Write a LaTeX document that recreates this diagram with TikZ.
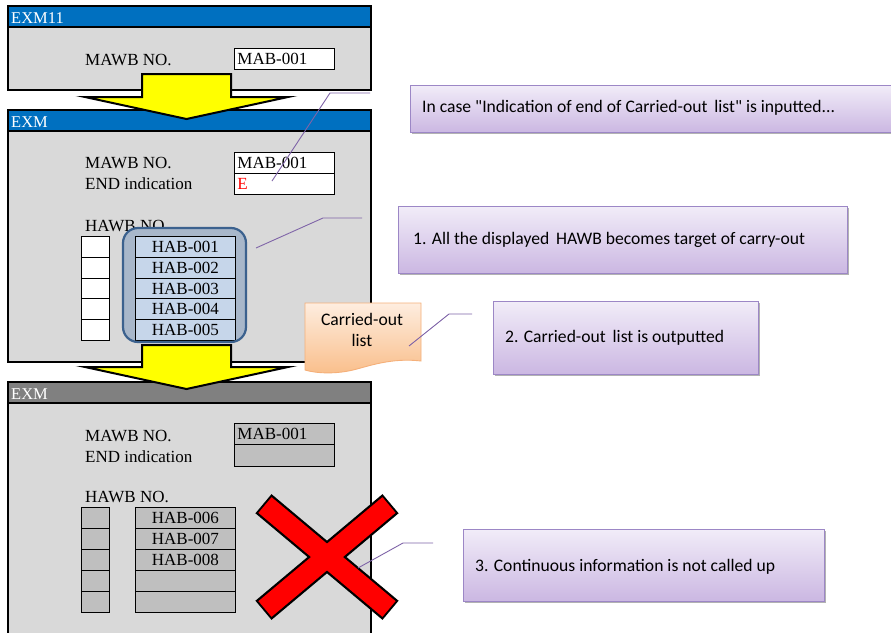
\documentclass[tikz,border=0pt]{standalone}
\usepackage{fontspec}
\setmainfont{Liberation Serif}
\newfontfamily\calfont{Carlito}
\usetikzlibrary{shadows}
\definecolor{barblue}{HTML}{0070C0}
\definecolor{panelgray}{HTML}{D9D9D9}
\definecolor{fieldgray}{HTML}{BFBFBF}
\definecolor{bargray}{HTML}{808080}
\definecolor{hifill}{HTML}{A8B7CA}
\definecolor{hiborder}{HTML}{3B618E}
\definecolor{cellblue}{HTML}{C6D6EA}
\definecolor{pborder}{HTML}{9C87C6}
\definecolor{ptop}{HTML}{F1ECF8}
\definecolor{pbot}{HTML}{CBB7E2}
\definecolor{pline}{HTML}{7F64A8}
\definecolor{nborder}{HTML}{F5B07A}
\definecolor{ntop}{HTML}{FEEDDF}
\definecolor{nbot}{HTML}{F9BE8A}
\definecolor{arrowyellow}{HTML}{FFFF00}
\definecolor{xred}{HTML}{FF0000}
\begin{document}
\begin{tikzpicture}[x=1pt,y=-1pt,
  panel/.style={fill=panelgray,draw=black,line width=1.2pt},
  tbar/.style={draw=black,line width=1.2pt},
  title/.style={anchor=base west,inner sep=0,text=white,font=\fontsize{16.5}{19}\selectfont},
  lbl/.style={anchor=base west,inner sep=0,font=\fontsize{17}{20}\selectfont},
  field/.style={draw=black,line width=0.9pt,anchor=north west,minimum height=21.3pt,
     text width=94pt,inner xsep=3pt,inner ysep=0pt,align=left,font=\fontsize{17}{20}\selectfont},
  cell/.style={draw=black,line width=0.9pt,anchor=north west,minimum height=20.8pt,inner sep=0pt,
     font=\fontsize{17}{20}\selectfont},
  bigarrow/.style={fill=arrowyellow,draw=black,line width=2pt,line join=miter},
  pbox/.style={draw=pborder,line width=0.9pt,top color=ptop,bottom color=pbot,anchor=north west,inner sep=0pt,
     drop shadow={shadow xshift=1.5pt,shadow yshift=-2pt,opacity=0.3,fill=black}},
  ptext/.style={anchor=west,inner sep=0pt,font=\calfont\fontsize{17.6}{21}\selectfont},
  cline/.style={draw=pline,line width=0.9pt},
]
\useasboundingbox (0,0) rectangle (891,632);
\clip (0,0) rectangle (891,632);
\fill[white] (0,0) rectangle (891,632);

% ---------- top panel EXM11
\draw[panel] (8,6) rectangle (371,90);
\filldraw[tbar,fill=barblue] (8,6) rectangle (371,27);
\node[title] (t1) at (11,23) {EXM11};
\node[lbl] (l1a) at (85,65) {MAWB NO.};
\node[field,fill=white] (f1a) at (234,48) {MAB-001};

% ---------- middle panel EXM
\draw[panel] (8,110) rectangle (371,362);
\filldraw[tbar,fill=barblue] (8,110) rectangle (371,131);
\node[title] (t2) at (11,127) {EXM};
\node[lbl] (l2a) at (85,168) {MAWB NO.};
\node[lbl] (l2b) at (85,189) {END indication};
\node[field,fill=white] (f2a) at (234,152) {MAB-001};
\node[field,fill=white,text=red] (f2b) at (234,173) {E};
\node[lbl] (l2c) at (85,231) {HAWB NO.};
\fill[hifill,rounded corners=15pt] (123,228) rectangle (246,342);
\foreach \i in {1,...,5}{
  \node[cell,fill=white,minimum width=28pt] (ml\i) at (81,{236+(\i-1)*20.8}) {};
  \node[cell,fill=cellblue,minimum width=100pt] (mh\i) at (135,{236+(\i-1)*20.8}) {HAB-00\i};
}
\draw[hiborder,line width=2.2pt,rounded corners=15pt] (123,228) rectangle (246,342);

% ---------- bottom panel EXM
\draw[panel] (8,382) rectangle (371,660);
\filldraw[tbar,fill=bargray] (8,382) rectangle (371,403);
\node[title] (t3) at (11,399) {EXM};
\node[lbl] (l3a) at (85,441) {MAWB NO.};
\node[lbl] (l3b) at (85,462) {END indication};
\node[field,fill=fieldgray] (f3a) at (234,423) {MAB-001};
\node[field,fill=fieldgray] (f3b) at (234,444.3) {\strut};
\node[lbl] (l3c) at (85,502) {HAWB NO.};
\foreach \i/\t in {1/HAB-006,2/HAB-007,3/HAB-008,4/{},5/{}}{
  \node[cell,fill=fieldgray,minimum width=28pt] (bl\i) at (81,{507+(\i-1)*21}) {};
  \node[cell,fill=fieldgray,minimum width=100pt,minimum height=21pt] (bh\i) at (135,{507+(\i-1)*21}) {\t};
}

% ---------- big yellow arrows
\draw[bigarrow] (142,74) -- (231,74) -- (231,97) -- (288,97) -- (186.5,119) -- (85,97) -- (142,97) -- cycle;
\draw[bigarrow] (142,345) -- (231,345) -- (231,367) -- (288,367) -- (186.5,389) -- (85,367) -- (142,367) -- cycle;

% ---------- red cross
\coordinate (xa) at (265,505);
\coordinate (xb) at (389,609);
\coordinate (xc) at (389,505);
\coordinate (xd) at (265,609);
\draw[black,line width=25pt,shorten <=-2pt,shorten >=-2pt] (xa) -- (xb);
\draw[black,line width=25pt,shorten <=-2pt,shorten >=-2pt] (xc) -- (xd);
\draw[xred,line width=20.5pt] (xa) -- (xb);
\draw[xred,line width=20.5pt] (xc) -- (xd);

% ---------- carried-out list note
\draw[draw=nborder,line width=0.9pt,top color=ntop,bottom color=nbot]
  (305,303) -- (421,303) -- (421,361)
  .. controls (395,358) and (375,364) .. (357,369)
  .. controls (335,375) and (315,373) .. (305,370) -- cycle;
\node[align=center,inner sep=0pt,font=\calfont\fontsize{17.6}{21}\selectfont] (note) at (362,330) {Carried-out\\list};

% ---------- purple callout boxes
\node[pbox,minimum width=495pt,minimum height=47pt] (bA) at (410,85) {};
\node[ptext] (tA) at (422,108) {In case "Indication of end of Carried-out\ \,list" is inputted...};
\node[pbox,minimum width=449pt,minimum height=67pt] (b1) at (398,206) {};
\node[ptext] (t1b) at (413,240) {1. All the displayed\ \,HAWB becomes target of carry-out};
\node[pbox,minimum width=265pt,minimum height=73pt] (b2) at (493,301) {};
\node[ptext] (t2b) at (505,338) {2. Carried-out\ \,list is outputted};
\node[pbox,minimum width=361pt,minimum height=72pt] (b3) at (463,529) {};
\node[ptext] (t3b) at (475,567) {3. Continuous information is not called up};

% ---------- callout lines
\coordinate (cA1) at (370,93); \coordinate (cA2) at (330,93); \coordinate (cA3) at (272,181);
\draw[cline] (cA1) -- (cA2) -- (cA3);
\coordinate (c11) at (362,218); \coordinate (c12) at (323,218); \coordinate (c13) at (256,248);
\draw[cline] (c11) -- (c12) -- (c13);
\coordinate (c21) at (472,314); \coordinate (c22) at (449,314); \coordinate (c23) at (409,346);
\draw[cline] (c21) -- (c22) -- (c23);
\coordinate (c31) at (433,543); \coordinate (c32) at (403,543); \coordinate (c33) at (358,568);
\draw[cline] (c31) -- (c32) -- (c33);
\end{tikzpicture}
\end{document}
